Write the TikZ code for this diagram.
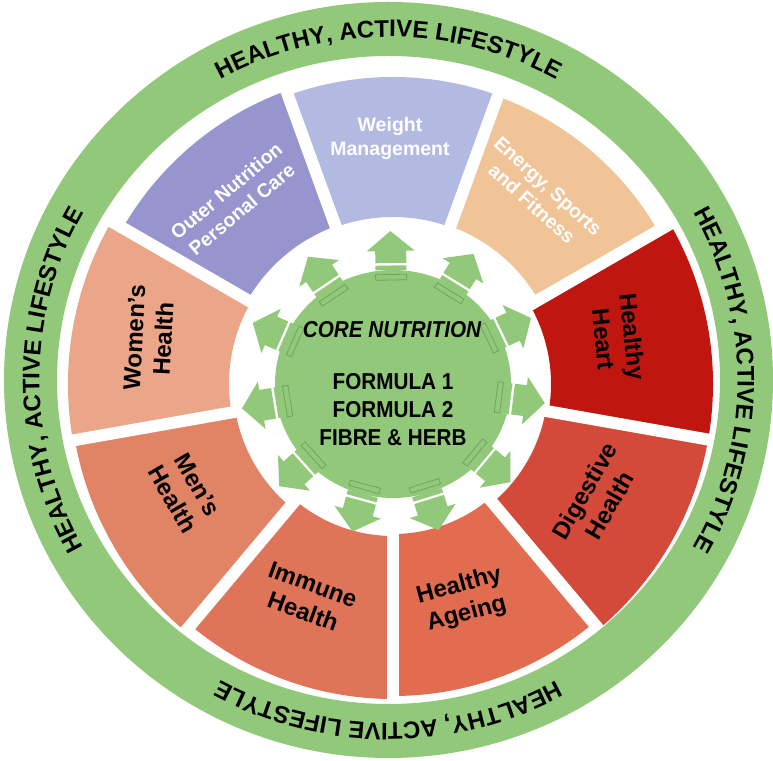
\documentclass[tikz,border=0pt]{standalone}
\usepackage{fontspec}
\setmainfont{Liberation Sans}
\newfontfamily\narrowsans[FakeStretch=0.9]{Liberation Sans}
\usetikzlibrary{decorations.text}

\definecolor{ringgreen}{RGB}{146,200,122}
\definecolor{edgegreen}{RGB}{112,166,92}
\definecolor{cOuter}{RGB}{152,148,206}
\definecolor{cWeight}{RGB}{178,186,226}
\definecolor{cEnergy}{RGB}{240,196,150}
\definecolor{cHeart}{RGB}{192,22,16}
\definecolor{cDigest}{RGB}{212,74,58}
\definecolor{cAgeing}{RGB}{226,108,80}
\definecolor{cImmune}{RGB}{224,116,88}
\definecolor{cMen}{RGB}{225,132,102}
\definecolor{cWomen}{RGB}{235,165,136}

\newcommand\segsector[5]{%
  \fill[#5] (#1:#3) arc[start angle=#1, end angle=#2, radius=#3]
    -- (#2:#4) arc[start angle=#2, end angle=#1, radius=#4] -- cycle;}
\newcommand\ringfont{\fontsize{24}{24}\selectfont\bfseries}

\begin{document}
\begin{tikzpicture}[x=1pt,y=1pt,
  blabel/.style={font=\bfseries\fontsize{24}{29}\selectfont, align=center, text=black, inner sep=0pt},
  wlabel/.style={font=\bfseries\fontsize{19.5}{24}\selectfont, align=center, text=white, inner sep=0pt},
  ringtext/.style={decorate, decoration={text along path, text align=center,
     text={|\ringfont|HEALTHY, ACTIVE LIFESTYLE}}},
  arrowfill/.style={fill=ringgreen},
  bandbox/.style={draw=edgegreen, line width=0.8pt, fill=ringgreen}
]
\useasboundingbox (0,0) rectangle (773,760);
\fill[white] (0,0) rectangle (773,760);

% segments around the centre of the wheel
\begin{scope}[shift={(393,376)}]
  \segsector{110}{150}{168}{312}{cOuter}
  \segsector{70}{110}{167}{307}{cWeight}
  \segsector{30}{70}{168}{306}{cEnergy}
  \segsector{-10}{30}{158}{320}{cHeart}
  \segsector{-50}{-10}{155}{320}{cDigest}
  \segsector{-90}{-50}{150}{312}{cAgeing}
  \segsector{-130}{-90}{152}{315}{cImmune}
  \segsector{-170}{-130}{160}{323}{cMen}
  \segsector{150}{190}{164}{325}{cWomen}
  \foreach \g in {150,110,70,30,-10,-50,-90,-130,-170}
    \draw[white, line width=12pt] (\g:140) -- (\g:334);
\end{scope}

% outer ring with its text
\begin{scope}[shift={(388.5,380)}]
  \fill[ringgreen, even odd rule] (0,0) ellipse[x radius=384.5, y radius=378]
                                  (0,0) ellipse[x radius=331.5, y radius=324];
  \path[ringtext] (150:349 and 343) arc[start angle=150, end angle=30, x radius=349, y radius=343];
  \path[ringtext] (60:349 and 343) arc[start angle=60, end angle=-60, x radius=349, y radius=343];
  \path[ringtext] (-30:349 and 343) arc[start angle=-30, end angle=-150, x radius=349, y radius=343];
  \path[ringtext] (240:349 and 343) arc[start angle=240, end angle=120, x radius=349, y radius=343];
\end{scope}

% centre circle and arrows
\begin{scope}[shift={(393,376)}]
  \fill[ringgreen] (0,0) ellipse[x radius=118, y radius=114];
  \foreach \k in {0,...,10}{
    \pgfmathsetmacro\ang{91-\k*360/11}
    \begin{scope}[rotate=\ang]
      \fill[arrowfill] (121,-15.5) -- (133,-15.5) -- (133,-24) -- (153,0) -- (133,24) -- (133,15.5) -- (121,15.5) -- cycle;
      \fill[arrowfill] (114,-15.5) rectangle (118.5,15.5);
      \path[bandbox] (104,-15.5) rectangle (109.5,15.5);
    \end{scope}
  }
\end{scope}

\node[font=\narrowsans\bfseries\itshape\fontsize{23}{23}\selectfont, inner sep=0pt] (core) at (392,430) {CORE NUTRITION};
\node[font=\narrowsans\bfseries\fontsize{23}{28}\selectfont, align=center, inner sep=0pt] (formula) at (393,350) {FORMULA 1\\FORMULA 2\\FIBRE \& HERB};

% segment labels
\node[wlabel, rotate=40] (outer) at (234,560) {Outer Nutrition\\Personal Care};
\node[wlabel] (weight) at (390,621) {Weight\\Management};
\node[wlabel, rotate=-42] (energy) at (540,565) {Energy, Sports\\and Fitness};
\node[blabel, rotate=-84] (heart) at (618,422) {Healthy\\Heart};
\node[blabel, rotate=60] (digest) at (597,262) {Digestive\\Health};
\node[blabel, rotate=15] (ageing) at (463,160) {Healthy\\Ageing};
\node[blabel, rotate=-20] (immune) at (308,162) {Immune\\Health};
\node[blabel, rotate=-60] (men) at (185,268) {Men’s\\Health};
\node[blabel, rotate=87] (women) at (149,422) {Women’s\\Health};
\end{tikzpicture}
\end{document}
